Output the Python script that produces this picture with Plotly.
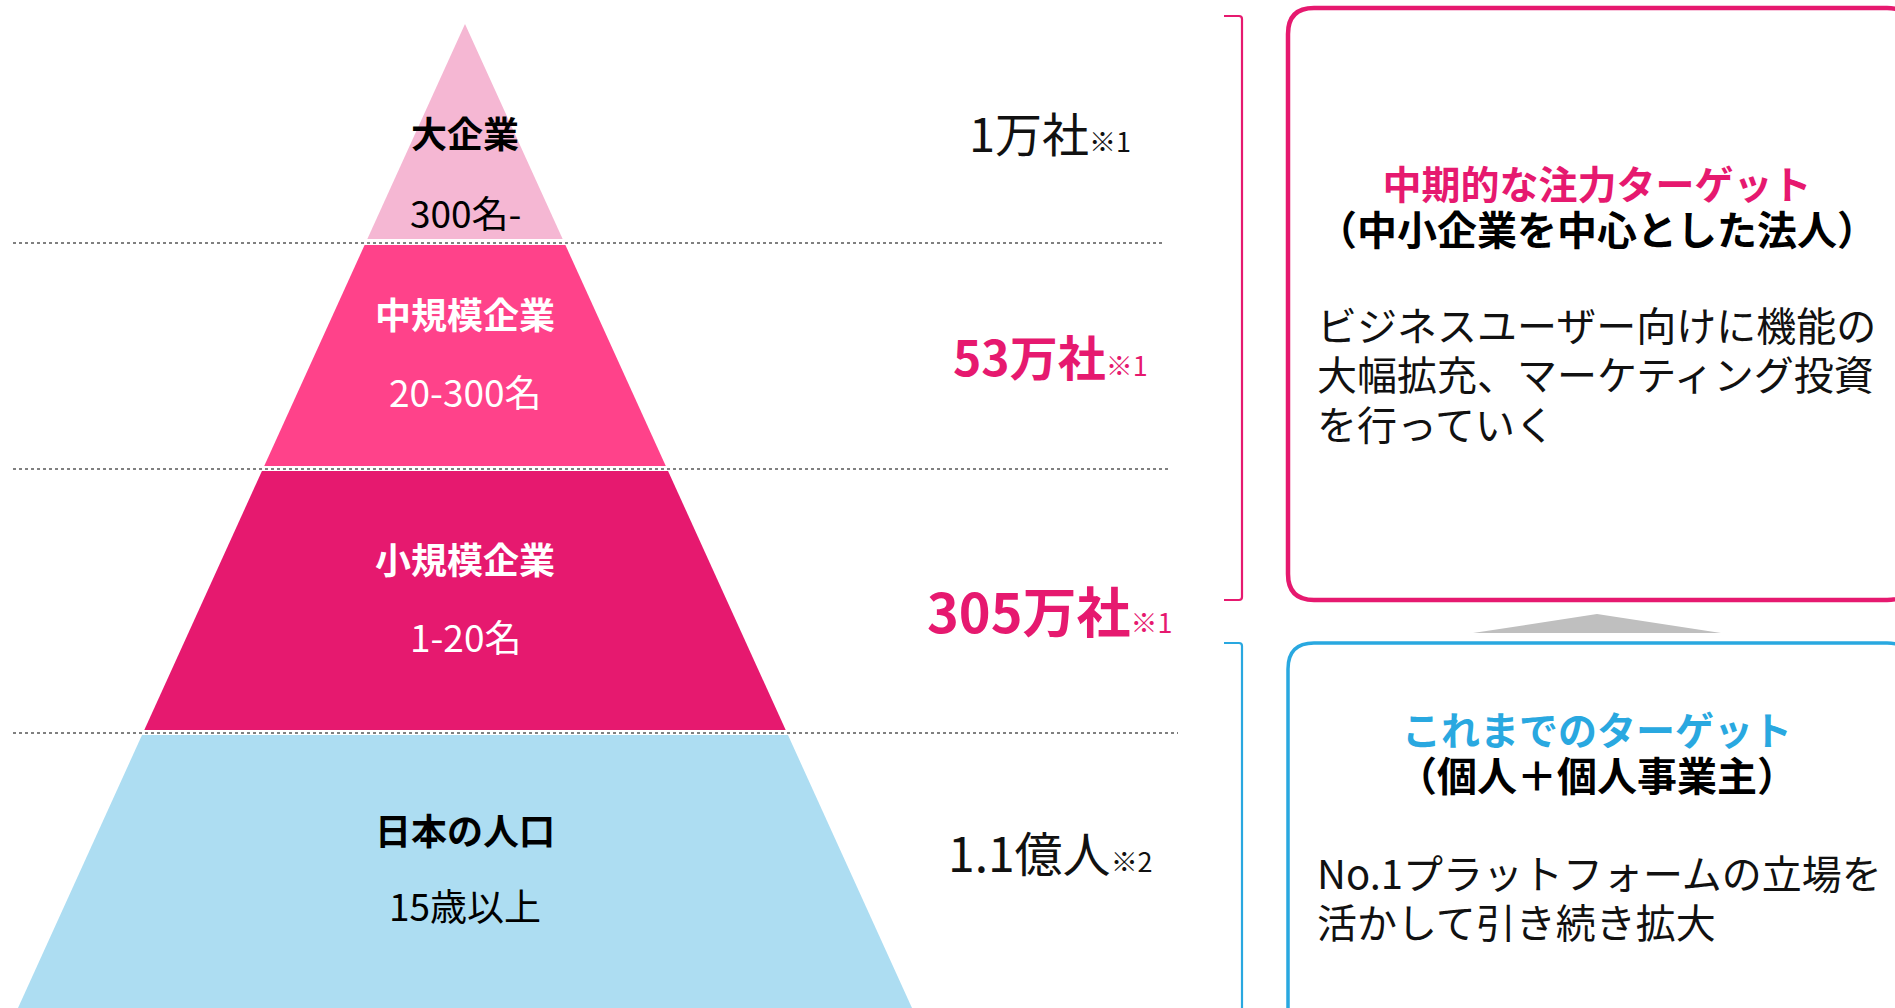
import plotly.graph_objects as go

# ---------------- data ----------------
tiers = ["大企業", "中規模企業", "小規模企業", "日本の人口"]
tier_ranges = ["300名-", "20-300名", "1-20名", "15歳以上"]
tier_counts = ["1万社", "53万社", "305万社", "1.1億人"]
tier_notes = ["※1", "※1", "※1", "※2"]

focus_title = "中期的な注力ターゲット"
focus_subtitle = "（中小企業を中心とした法人）"
focus_body = ["ビジネスユーザー向けに機能の", "大幅拡充、マーケティング投資", "を行っていく"]
current_title = "これまでのターゲット"
current_subtitle = "（個人＋個人事業主）"
current_body = ["No.1プラットフォームの立場を", "活かして引き続き拡大"]

# ---------------- layout / style ----------------
W, H = 1895, 1008
PINK = "#E6196F"
BLUE = "#29A8E0"
FONT = "Noto Sans CJK JP"

tier_fill = ["#F5B7D3", "#FF428A", "#E6196F", "#ADDDF2"]
label_color = ["#000000", "#FFFFFF", "#FFFFFF", "#000000"]
count_color = ["#111111", PINK, PINK, "#111111"]
count_bold = [False, True, True, False]
count_size = [47, 48, 54, 48]

apex_x, apex_y, base_y, base_half = 465, 24, 1008, 447
tier_top = [24, 245, 471, 735]
tier_bot = [239, 466, 730, 1010]
sep_y = [243, 469, 733]
sep_x1 = [1163, 1169, 1178]
label_y = [132, 313, 558, 829]
range_y = [212, 391, 636, 905]
count_y = [131, 355, 609, 851]


def half_width(y):
    return base_half * (y - apex_y) / (base_y - apex_y)


fig = go.Figure()

for i, name in enumerate(tiers):
    t, b = tier_top[i], tier_bot[i]
    xs = [apex_x - half_width(t), apex_x + half_width(t),
          apex_x + half_width(b), apex_x - half_width(b), apex_x - half_width(t)]
    ys = [t, t, b, b, t]
    fig.add_trace(go.Scatter(
        x=xs, y=ys, mode="lines", fill="toself", fillcolor=tier_fill[i],
        line=dict(width=0, color=tier_fill[i]), hoverinfo="skip", showlegend=False,
        name=name))

shapes = []
for y, x1 in zip(sep_y, sep_x1):
    shapes.append(dict(type="line", x0=13, x1=x1, y0=y, y1=y, xref="x", yref="y",
                       line=dict(color="#808080", width=2, dash="dot"), layer="above"))


def rounded_rect(x0, y0, x1, y1, r):
    return (f"M {x0+r},{y0} L {x1-r},{y0} Q {x1},{y0} {x1},{y0+r} "
            f"L {x1},{y1-r} Q {x1},{y1} {x1-r},{y1} L {x0+r},{y1} "
            f"Q {x0},{y1} {x0},{y1-r} L {x0},{y0+r} Q {x0},{y0} {x0+r},{y0} Z")


# brackets
shapes.append(dict(type="path", xref="x", yref="y",
                   path="M 1224,16 L 1239,16 Q 1242,16 1242,19 L 1242,597 Q 1242,600 1239,600 L 1224,600",
                   line=dict(color=PINK, width=2.2)))
shapes.append(dict(type="path", xref="x", yref="y",
                   path="M 1224,643 L 1239,643 Q 1242,643 1242,646 L 1242,1015",
                   line=dict(color=BLUE, width=2.2)))
# boxes
shapes.append(dict(type="path", xref="x", yref="y",
                   path=rounded_rect(1288, 8, 1913, 600, 26),
                   line=dict(color=PINK, width=4.5)))
shapes.append(dict(type="path", xref="x", yref="y",
                   path=rounded_rect(1288, 643, 1913, 1040, 26),
                   line=dict(color=BLUE, width=3.5)))
# grey arrow
shapes.append(dict(type="path", xref="x", yref="y",
                   path="M 1473,633 L 1597,614 L 1721,633 Z",
                   fillcolor="#BFBFBF", line=dict(width=0)))

ann = []
for i in range(len(tiers)):
    ann.append(dict(x=apex_x, y=label_y[i], text=f"<b>{tiers[i]}</b>", showarrow=False,
                    xanchor="center", yanchor="middle",
                    font=dict(family=FONT, size=36, color=label_color[i])))
    ann.append(dict(x=apex_x, y=range_y[i], text=tier_ranges[i], showarrow=False,
                    xanchor="center", yanchor="middle",
                    font=dict(family=FONT, size=37, color=label_color[i])))
    main = f"<b>{tier_counts[i]}</b>" if count_bold[i] else tier_counts[i]
    txt = main + f"<span style='font-size:27px;font-weight:normal'>{tier_notes[i]}</span>"
    ann.append(dict(x=1050, y=count_y[i], text=txt, showarrow=False,
                    xanchor="center", yanchor="middle",
                    font=dict(family=FONT, size=count_size[i], color=count_color[i])))


def heading(title, subtitle, color):
    return (f"<span style='font-size:39px;color:{color}'><b>{title}</b></span><br>"
            f"<span style='font-size:40px'><b>{subtitle}</b></span>")


def body(lines):
    return "<br>".join(f"<span style='font-size:40px'>{l}</span>" for l in lines)


# combined headings: base font 35 -> line spacing ~46px
ann.append(dict(x=1597, y=205, text=heading(focus_title, focus_subtitle, PINK),
                showarrow=False, xanchor="center", yanchor="middle", align="center",
                font=dict(family=FONT, size=35, color="#000000")))
ann.append(dict(x=1315, y=373, text=body(focus_body),
                showarrow=False, xanchor="left", yanchor="middle", align="left",
                font=dict(family=FONT, size=38, color="#111111")))

ann.append(dict(x=1597, y=751, text=heading(current_title, current_subtitle, BLUE),
                showarrow=False, xanchor="center", yanchor="middle", align="center",
                font=dict(family=FONT, size=35, color="#000000")))
ann.append(dict(x=1315, y=896, text=body(current_body),
                showarrow=False, xanchor="left", yanchor="middle", align="left",
                font=dict(family=FONT, size=38, color="#111111")))

fig.update_layout(
    width=W, height=H, margin=dict(l=0, r=0, t=0, b=0),
    paper_bgcolor="white", plot_bgcolor="white",
    xaxis=dict(range=[0, W], visible=False, fixedrange=True),
    yaxis=dict(range=[H, 0], visible=False, fixedrange=True),
    shapes=shapes, annotations=ann, showlegend=False,
)

fig.write_html("out.html", config={"displayModeBar": False},
               post_script="document.body.style.margin='0';document.body.style.overflow='hidden';")
